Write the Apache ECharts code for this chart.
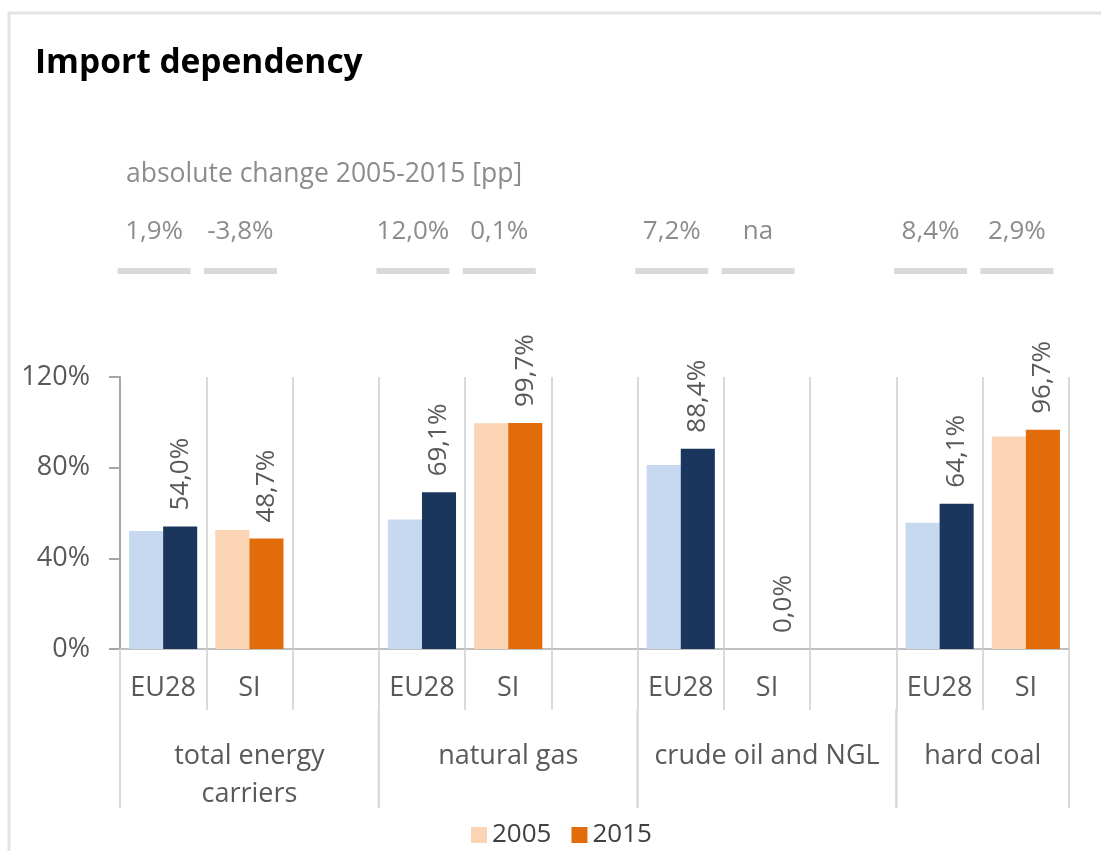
<!DOCTYPE html>
<html>
<head>
<meta charset="utf-8">
<script src="https://cdn.jsdelivr.net/npm/echarts@6/dist/echarts.min.js"></script>
<style>
html,body{margin:0;padding:0;background:#fff;}
#chart{width:1101px;height:851px;}
</style>
</head>
<body>
<div id="chart"></div>
<script>
// ---- data ----
const groups = ['total energy\ncarriers', 'natural gas', 'crude oil and NGL', 'hard coal'];
const countries = ['EU28', 'SI'];
const eu2005 = [52.1, 57.1, 81.2, 55.7];
const eu2015 = [54.0, 69.1, 88.4, 64.1];
const si2005 = [52.5, 99.6, 0.0, 93.8];
const si2015 = [48.7, 99.7, 0.0, 96.7];
const euChange = ['1,9%', '12,0%', '7,2%', '8,4%'];
const siChange = ['-3,8%', '0,1%', 'na', '2,9%'];
const yTicks = [0, 40, 80, 120];
const years = ['2005', '2015'];

// ---- build slots (EU28, SI, spacer between groups) ----
const FONT = 'Open Sans';
const colEU05 = '#c6d9f0', colEU15 = '#1b365d', colSI05 = '#fbd4b4', colSI15 = '#e36c0a';
const slots = [];
const d2005 = [], d2015 = [], header = [], groupSpans = [];
groups.forEach((g, gi) => {
  const start = slots.length;
  slots.push('EU28|' + gi); slots.push('SI|' + gi);
  d2005.push({value: eu2005[gi], itemStyle: {color: colEU05}});
  d2005.push({value: si2005[gi], itemStyle: {color: colSI05}});
  d2015.push({value: eu2015[gi], itemStyle: {color: colEU15}});
  d2015.push({value: si2015[gi], itemStyle: {color: colSI15}});
  header.push([start, euChange[gi]]);
  header.push([start + 1, siChange[gi]]);
  if (gi < groups.length - 1) { slots.push('|' + gi); d2005.push('-'); d2015.push('-'); }
  groupSpans.push([start, slots.length - 1, gi]);
});
const fmt = v => v.toFixed(1).replace('.', ',') + '%';

const chart = echarts.init(document.getElementById('chart'));
chart.setOption({
  animation: false,
  backgroundColor: '#fff',
  graphic: [{
    type: 'rect', shape: {x: 9, y: 13, width: 1200, height: 1000},
    style: {fill: 'none', stroke: '#e3e3e3', lineWidth: 3}, z: -1
  }],
  title: [
    {text: 'Import dependency', left: 30, top: 41,
     textStyle: {fontFamily: FONT, fontSize: 33.5, fontWeight: 'bold', color: '#000'}},
    {text: 'absolute change 2005-2015 [pp]', left: 121, top: 156,
     textStyle: {fontFamily: FONT, fontSize: 26.5, fontWeight: 'normal', color: '#8c8c8c'}}
  ],
  legend: {
    data: years, left: 466, top: 817, itemWidth: 16, itemHeight: 16, itemGap: 20,
    icon: 'rect',
    textStyle: {fontFamily: FONT, fontSize: 26, color: '#404040'}
  },
  grid: [
    {left: 120, right: 32, top: 377, bottom: 202},
    {left: 120, right: 32, top: 215, height: 60}
  ],
  xAxis: [
    {type: 'category', gridIndex: 0, data: slots,
     axisLine: {show: true, lineStyle: {color: '#bfbfbf', width: 2}},
     axisTick: {show: true, interval: 0, length: 61, lineStyle: {color: '#d9d9d9', width: 2}},
     splitLine: {show: true, interval: 0, lineStyle: {color: '#d9d9d9', width: 2}},
     axisLabel: {interval: 0, margin: 26, fontFamily: FONT, fontSize: 27, color: '#595959',
                 formatter: v => v.split('|')[0]}},
    {type: 'category', gridIndex: 1, data: slots, show: false}
  ],
  yAxis: [
    {type: 'value', gridIndex: 0, min: 0, max: 120, interval: 40,
     axisLine: {show: true, lineStyle: {color: '#a6a6a6', width: 2}},
     axisTick: {show: true, length: 11, lineStyle: {color: '#a6a6a6', width: 2}},
     splitLine: {show: false},
     axisLabel: {margin: 30, fontFamily: FONT, fontSize: 27, color: '#595959',
                 formatter: v => yTicks.indexOf(v) >= 0 ? v + '%' : ''}},
    {type: 'value', gridIndex: 1, min: 0, max: 1, show: false}
  ],
  series: [
    {name: '2005', type: 'bar', xAxisIndex: 0, yAxisIndex: 0, data: d2005,
     color: colSI05, barGap: 0, barCategoryGap: '21%'},
    {name: '2015', type: 'bar', xAxisIndex: 0, yAxisIndex: 0, data: d2015,
     color: colSI15, barGap: 0, barCategoryGap: '21%',
     label: {show: true, position: 'top', rotate: 90, align: 'left', verticalAlign: 'middle',
             distance: 16, fontFamily: FONT, fontSize: 26, color: '#595959',
             formatter: p => fmt(p.value)}},
    // group labels and long separators below the country labels
    {type: 'custom', xAxisIndex: 0, yAxisIndex: 0, data: groupSpans, silent: true, clip: false,
     renderItem: (params, api) => {
       const bw = api.size([1, 0])[0];
       const a = api.coord([api.value(0), 0]);
       const b = api.coord([api.value(1), 0]);
       const left = a[0] - bw / 2, right = b[0] + bw / 2, base = a[1];
       const ln = x => ({type: 'line', shape: {x1: x, y1: base + 60, x2: x, y2: base + 159},
                         style: {stroke: '#d9d9d9', lineWidth: 2}});
       return {type: 'group', children: [
         ln(left), ln(right),
         {type: 'text', style: {text: groups[api.value(2)], x: (left + right) / 2, y: base + 88,
            align: 'center', verticalAlign: 'top', fontFamily: FONT, fontSize: 27,
            lineHeight: 38, fill: '#595959'}}
       ]};
     }},
    // header: absolute change values with underline bars
    {type: 'custom', xAxisIndex: 1, yAxisIndex: 1, data: header, silent: true,
     renderItem: (params, api) => {
       const p = api.coord([api.value(0), 1]);
       const x = p[0] - 9;
       return {type: 'group', children: [
         {type: 'text', style: {text: header[params.dataIndex][1], x: x, y: p[1] + 17,
            align: 'center', verticalAlign: 'middle', fontFamily: FONT, fontSize: 26, fill: '#8c8c8c'}},
         {type: 'rect', shape: {x: x - 36.5, y: p[1] + 53, width: 73, height: 6},
          style: {fill: '#d9d9d9'}}
       ]};
     }}
  ]
});
</script>
</body>
</html>
